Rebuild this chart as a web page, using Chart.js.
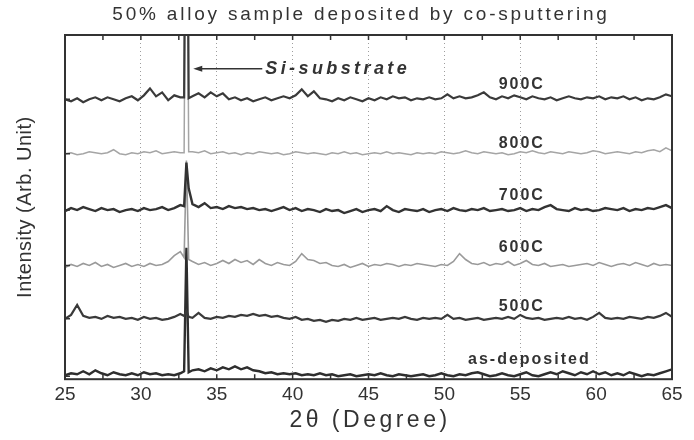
<!DOCTYPE html>
<html>
<head>
<meta charset="utf-8">
<script src="https://cdn.jsdelivr.net/npm/chart.js@4.4.1/dist/chart.umd.min.js"></script>
<style>
  html, body { margin: 0; padding: 0; background: #fff; }
  #wrap { width: 694px; height: 440px; }
</style>
</head>
<body>
<div id="wrap"><canvas id="xrd" width="694" height="440"></canvas></div>
<script>
// 2-theta positions (degrees), shared by all scans
const twoTheta = [
  25, 25.4, 25.8, 26.2, 26.6, 27, 27.4, 27.8, 28.2, 28.6,
  29, 29.4, 29.8, 30.2, 30.6, 31, 31.4, 31.8, 32.2, 32.6,
  32.85, 33, 33.15,
  33.4, 33.8, 34.2, 34.6, 35, 35.4, 35.8, 36.2, 36.6, 37,
  37.4, 37.8, 38.2, 38.6, 39, 39.4, 39.8, 40.2, 40.6, 41,
  41.4, 41.8, 42.2, 42.6, 43, 43.4, 43.8, 44.2, 44.6, 45,
  45.4, 45.8, 46.2, 46.6, 47, 47.4, 47.8, 48.2, 48.6, 49,
  49.4, 49.8, 50.2, 50.6, 51, 51.4, 51.8, 52.2, 52.6, 53,
  53.4, 53.8, 54.2, 54.6, 55, 55.4, 55.8, 56.2, 56.6, 57,
  57.4, 57.8, 58.2, 58.6, 59, 59.4, 59.8, 60.2, 60.6, 61,
  61.4, 61.8, 62.2, 62.6, 63, 63.4, 63.8, 64.2, 64.6, 65
];

const sampleNames = ['900C', '800C', '700C', '600C', '500C', 'as-deposited'];
// vertical stacking offset of each scan (arb. units)
const offsets = [283, 228, 171, 115, 61, 3];

// intensities above each scan's own baseline
const i900 = [
  0, -2, 1, -3, 0, 2, -1, 2, 0, -2, 1, 3, -1, 4, 11, 3, 7, -1, 4, 2,
  2, 400, 1,
  3, 6, 2, 7, 3, 6, 0, 2, -1, 1,
  -2, 0, 2, -1, 1, 3, 1, 4, 10, 3,
  8, 1, 0, -2, 1, -1, 2, 0, -2, 1,
  -1, 2, 0, 3, 1, 2, -1, 1, 0, 2,
  0, 1, 5, 1, 3, 1, 2, 4, 7, 2,
  0, 3, 1, 4, 2, 0, 3, 1, 0, 2,
  -1, 1, 3, 1, 0, 2, 1, 3, 0, 2,
  1, 3, 0, 2, -1, 1, 0, 2, 5, 3
];
const i800 = [
  0, 1, -1, 0, 2, 1, 0, 1, 4, 0, -1, 1, 0, 2, 1, 3, 0, 1, 2, 1,
  1, 400, 2,
  2, 1, 3, 0, 1, 2, 0, 1, -1, 1,
  0, 2, 1, 0, 1, -1, 0, 2, 1, 0,
  1, 0, -1, 1, 0, 2, 0, 1, -1, 0,
  1, 0, 2, 0, 1, 0, -1, 1, 0, 1,
  0, 2, 1, 0, 1, 3, 1, 0, 2, 1,
  0, 1, -1, 0, 2, 1, 3, 1, 0, 2,
  1, 0, 2, 1, 0, 1, 3, 2, 0, 1,
  2, 1, 0, 2, 1, 3, 4, 2, 6, 3
];
const i700 = [
  -1, 2, 0, 3, 1, -1, 2, 0, 1, -2, 0, 1, -1, 2, 0, 1, 3, 0, 2, 5,
  4, 48, 22,
  6, 3, 7, 2, 3, 1, 4, 2, 3, 1,
  2, 0, 1, -1, 1, 3, 0, 2, -1, 1,
  0, -2, 1, -1, 0, -3, -1, 1, -2, 0,
  1, -1, 4, 0, -2, 1, 0, -1, 1, -2,
  0, 1, -1, 2, 0, -1, 1, 0, 2, -1,
  0, 1, -1, 0, 2, -1, 1, 0, 3, 5,
  1, 0, -1, 2, 0, 1, -1, 0, 2, 1,
  0, 2, -1, 1, 0, 2, 1, 3, 5, 2
];
const i600 = [
  -2, 1, -1, 2, 0, 3, -1, 1, -2, 0, 2, -1, 1, -1, 2, 0, 1, 4, 10, 14,
  8, 106, 6,
  4, 1, 3, 0, 2, 5, 2, 6, 3, 5,
  1, 6, 2, 0, 3, 1, 0, 4, 12, 6,
  5, 2, 3, 0, -1, 1, -2, 0, 2, -1,
  1, 0, 2, 1, -1, 1, 0, 2, 1, 0,
  -1, 1, 0, 4, 12, 6, 2, 1, 3, 0,
  2, 1, 4, 0, 2, 5, 1, 0, 2, -1,
  0, 1, -1, 0, 1, 2, 0, 3, 1, -1,
  1, 2, 0, 3, 1, -1, 2, 0, 1, 0
];
const i500 = [
  0, 4, 14, 3, 1, 2, 0, 3, 1, 2, 0, 1, -1, 2, 0, 1, -1, 0, 2, 5,
  3, 8, 2,
  1, 6, 1, 0, 2, 1, 3, 2, 4, 3,
  5, 3, 4, 2, 3, 1, 0, 2, -1, 0,
  -2, -1, -3, -1, -2, 0, -1, 1, -1, 0,
  1, -1, 0, 1, 0, 2, 0, -1, 1, 0,
  1, 0, 4, 0, 1, -1, 0, 1, -1, 0,
  1, 0, 2, 0, 4, 1, 0, 1, -1, 0,
  1, 0, 2, 0, 1, -1, 2, 6, 1, 0,
  1, 0, 2, 1, 0, 2, 1, 3, 6, 2
];
const iAsDep = [
  1, 3, 2, 5, 2, 6, 3, 1, 4, 2, 1, 3, 1, 4, 2, 3, 1, 2, 1, 3,
  5, 130, 4,
  6, 7, 5, 8, 6, 9, 7, 10, 7, 9,
  6, 5, 3, 4, 2, 3, 2, 3, 1, 2,
  1, 3, 1, 2, 0, 1, 2, 0, 1, 2,
  1, 3, 1, 0, 2, 1, 0, 1, 2, 0,
  1, 3, 1, 0, 2, 1, 3, 4, 2, 0,
  1, 3, 1, 0, 2, 4, 1, 0, 2, 4,
  2, 5, 3, 1, 4, 2, 5, 2, 4, 1,
  3, 1, 4, 2, 0, 2, 1, 3, 5, 7
];
const scans = [i900, i800, i700, i600, i500, iAsDep];

const xMin = 25, xMax = 65, xStep = 5;

const FONT = 'Arial, "Liberation Sans", sans-serif';
const INK = '#333';

// labels, arrow, frame and inside ticks
const decorPlugin = {
  id: 'decor',
  afterDraw(chart) {
    const { ctx, chartArea: a, scales: { x, y } } = chart;
    ctx.save();

    // frame
    ctx.strokeStyle = INK;
    ctx.lineWidth = 2;
    ctx.strokeRect(a.left, a.top, a.right - a.left, a.bottom - a.top);

    // minor ticks top / bottom, pointing in
    ctx.lineWidth = 1.5;
    ctx.beginPath();
    for (let v = xMin; v <= xMax; v += xStep / 2) {
      const px = x.getPixelForValue(v);
      ctx.moveTo(px, a.top); ctx.lineTo(px, a.top + 5);
      ctx.moveTo(px, a.bottom); ctx.lineTo(px, a.bottom - 5);
    }
    // left ticks at the scan baselines
    offsets.forEach(o => {
      const py = y.getPixelForValue(o);
      ctx.moveTo(a.left, py); ctx.lineTo(a.left + 5, py);
    });
    ctx.stroke();

    ctx.fillStyle = INK;
    ctx.textBaseline = 'middle';
    ctx.textAlign = 'center';

    // title
    ctx.font = '19px ' + FONT;
    ctx.letterSpacing = '2.8px';
    ctx.fillText('50% alloy sample deposited by co-sputtering', 361, 15);

    // x axis title
    ctx.font = '23px ' + FONT;
    ctx.letterSpacing = '3.5px';
    ctx.fillText('2\u03b8 (Degree)', 370, 421);

    // y axis title
    ctx.save();
    ctx.translate(25, (a.top + a.bottom) / 2);
    ctx.rotate(-Math.PI / 2);
    ctx.font = '20px ' + FONT;
    ctx.letterSpacing = '0.5px';
    ctx.fillText('Intensity (Arb. Unit)', 0, 0);
    ctx.restore();

    // sample labels
    const lift = [15, 10, 15, 18, 12, 17];
    ctx.font = 'bold 16px ' + FONT;
    ctx.letterSpacing = '2px';
    sampleNames.forEach((name, i) => {
      const cx = name === 'as-deposited' ? 55.6 : 55.1;
      ctx.fillText(name, x.getPixelForValue(cx), y.getPixelForValue(offsets[i] + lift[i]));
    });

    // Si-substrate arrow
    const ay = y.getPixelForValue(314);
    const tip = x.getPixelForValue(33.45);
    const tail = x.getPixelForValue(38.0);
    ctx.lineWidth = 1.5;
    ctx.beginPath();
    ctx.moveTo(tip + 6, ay); ctx.lineTo(tail, ay);
    ctx.stroke();
    ctx.beginPath();
    ctx.moveTo(tip, ay);
    ctx.lineTo(tip + 9, ay - 3);
    ctx.lineTo(tip + 9, ay + 3);
    ctx.closePath();
    ctx.fill();

    ctx.textAlign = 'left';
    ctx.font = 'italic bold 18px ' + FONT;
    ctx.letterSpacing = '3.4px';
    ctx.fillText('Si-substrate', x.getPixelForValue(38.2), ay);

    ctx.restore();
  }
};

const styles = [
  { color: '#3a3a3a', width: 2.2 },
  { color: '#a5a5a5', width: 1.5 },
  { color: '#333333', width: 2.4 },
  { color: '#9a9a9a', width: 1.6 },
  { color: '#3a3a3a', width: 2.2 },
  { color: '#2e2e2e', width: 2.4 }
];

const datasets = scans.map((scan, i) => ({
  label: sampleNames[i],
  data: twoTheta.map((t, k) => ({ x: t, y: scan[k] + offsets[i] })),
  borderColor: styles[i].color,
  borderWidth: styles[i].width,
  pointRadius: 0,
  tension: 0,
  fill: false
}));

new Chart(document.getElementById('xrd').getContext('2d'), {
  type: 'line',
  data: { datasets },
  options: {
    responsive: false,
    animation: false,
    layout: { padding: { top: 35, left: 65, right: 22, bottom: 30 } },
    plugins: {
      legend: { display: false },
      title: { display: false },
      tooltip: { enabled: false }
    },
    scales: {
      x: {
        type: 'linear',
        min: xMin,
        max: xMax,
        ticks: {
          stepSize: xStep,
          padding: 4,
          color: INK,
          font: { family: FONT, size: 19 }
        },
        grid: {
          drawTicks: false,
          color: '#9e9e9e',
          lineWidth: 1
        },
        border: { display: false, dash: [1, 3] }
      },
      y: {
        display: false,
        min: 0,
        max: 348
      }
    }
  },
  plugins: [decorPlugin]
});
</script>
</body>
</html>
